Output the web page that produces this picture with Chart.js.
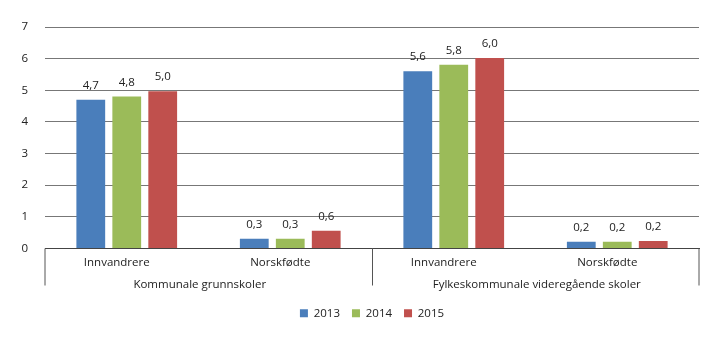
<!DOCTYPE html>
<html><head><meta charset="utf-8">
<script src="https://cdn.jsdelivr.net/npm/chart.js@4/dist/chart.umd.min.js"></script>
<style>html,body{margin:0;padding:0;background:#fff}#wrap{width:720px;height:341px;position:relative}</style>
</head><body><div id="wrap"><canvas id="c"></canvas></div>
<script>
const categories = ['Innvandrere', 'Norskfødte', 'Innvandrere', 'Norskfødte'];
const groups = ['Kommunale grunnskoler', 'Fylkeskommunale videregående skoler'];
const groupSizes = [2, 2];
const seriesNames = ['2013', '2014', '2015'];
const values2013 = [4.7, 0.31, 5.6, 0.21];
const values2014 = [4.8, 0.31, 5.81, 0.21];
const values2015 = [4.97, 0.56, 6.02, 0.24];
const yMin = 0, yMax = 7, yStep = 1;

const FONT = 'Open Sans';
const FS = 11.5;
const colors = ['#4a7ebb', '#9bbb59', '#c0504d'];
const fmt = v => v.toFixed(1).replace('.', ',');

const valueLabels = {
  id: 'valueLabels',
  afterDatasetsDraw(chart) {
    const ctx = chart.ctx;
    ctx.save();
    ctx.font = FS + 'px "' + FONT + '"';
    ctx.fillStyle = '#222';
    ctx.textAlign = 'center';
    ctx.textBaseline = 'alphabetic';
    chart.data.datasets.forEach((ds, i) => {
      chart.getDatasetMeta(i).data.forEach((el, j) => {
        ctx.fillText(fmt(ds.data[j]), el.x, el.y - 11);
      });
    });
    ctx.restore();
  }
};

const groupAxis = {
  id: 'groupAxis',
  afterDraw(chart) {
    const ctx = chart.ctx;
    const x = chart.scales.x;
    const area = chart.chartArea;
    const y0 = area.bottom;
    ctx.save();
    ctx.strokeStyle = '#555';
    ctx.lineWidth = 1;
    const bounds = [area.left];
    let idx = 0;
    groupSizes.forEach((n, g) => {
      idx += n;
      if (idx < categories.length) {
        bounds.push(Math.round((x.getPixelForValue(idx - 1) + x.getPixelForValue(idx)) / 2) + 0.5);
      } else {
        bounds.push(area.right);
      }
    });
    bounds.forEach(bx => {
      ctx.beginPath();
      ctx.moveTo(bx, y0);
      ctx.lineTo(bx, y0 + 37);
      ctx.stroke();
    });
    ctx.font = FS + 'px "' + FONT + '"';
    ctx.fillStyle = '#222';
    ctx.textAlign = 'center';
    ctx.textBaseline = 'middle';
    const offs = [-9, 1];
    groups.forEach((g, i) => {
      const cx = (bounds[i] + bounds[i + 1]) / 2 + offs[i];
      ctx.fillText(g, cx, y0 + 36);
    });
    ctx.restore();
  }
};

new Chart(document.getElementById('c'), {
  type: 'bar',
  data: {
    labels: categories,
    datasets: [
      { label: seriesNames[0], data: values2013, backgroundColor: colors[0] },
      { label: seriesNames[1], data: values2014, backgroundColor: colors[1] },
      { label: seriesNames[2], data: values2015, backgroundColor: colors[2] }
    ]
  },
  options: {
    responsive: true,
    maintainAspectRatio: false,
    animation: false,
    devicePixelRatio: 1,
    layout: { padding: { top: 27, right: 21, left: 0, bottom: 12 } },
    datasets: { bar: { categoryPercentage: 0.66, barPercentage: 0.8 } },
    plugins: {
      tooltip: { enabled: false },
      legend: {
        position: 'bottom',
        fullSize: false,
        labels: {
          boxWidth: 8, boxHeight: 8, padding: 12,
          color: '#222',
          font: { family: FONT, size: FS }
        }
      }
    },
    scales: {
      x: {
        grid: { display: false, drawTicks: false },
        border: { display: true, color: '#444', width: 1 },
        ticks: { color: '#222', padding: 7, labelOffset: -10, font: { family: FONT, size: FS } },
        afterFit(s) { s.height = 47; }
      },
      y: {
        min: yMin, max: yMax,
        ticks: { stepSize: yStep, color: '#222', padding: 17, font: { family: FONT, size: FS } },
        grid: { color: '#777', lineWidth: 1, drawTicks: false },
        border: { display: false },
        afterFit(s) { s.width = 45; }
      }
    }
  },
  plugins: [valueLabels, groupAxis]
});
</script>
</body></html>
